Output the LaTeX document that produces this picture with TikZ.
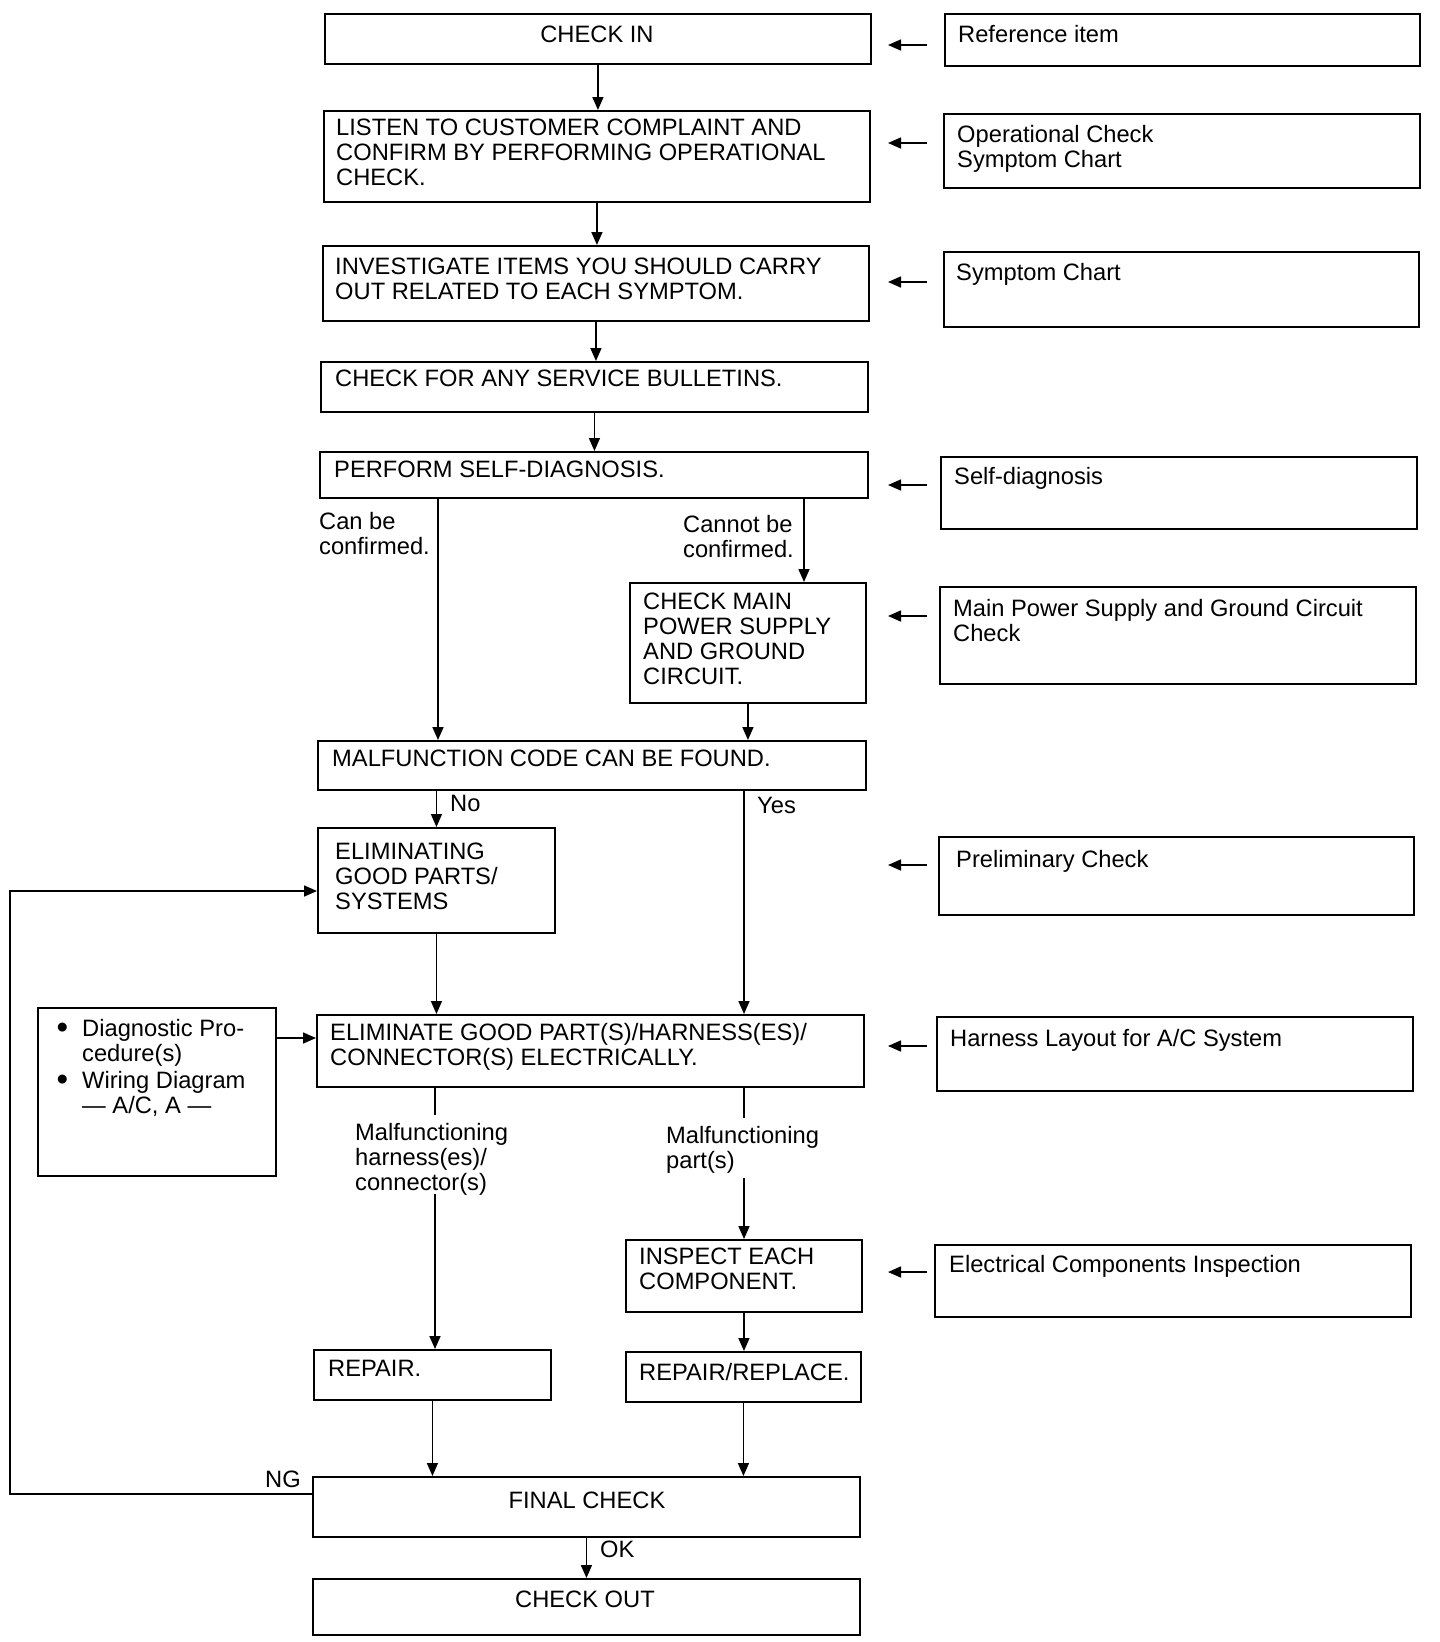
\documentclass[tikz,border=0pt]{standalone}
\usepackage{fontspec}
\setmainfont{Liberation Sans}
\usetikzlibrary{arrows.meta,calc}
\newcommand\bigbul{\llap{\raisebox{-2pt}{\fontsize{33}{25}\selectfont\textbullet}\hspace{14pt}}}
\begin{document}
\begin{tikzpicture}[x=1pt,y=-1pt,
  box/.style={draw, line width=1.9pt, inner sep=0pt, anchor=north west},
  txt/.style={inner sep=0pt, anchor=north west, align=left, font=\fontsize{23.7}{25}\selectfont},
  ctxt/.style={txt, anchor=north, align=center},
  arr/.style={line width=1.6pt, -{Triangle[length=13pt,width=11pt]}},
  ln/.style={line width=1.6pt}]
\useasboundingbox[fill=white] (0,0) rectangle (1440,1642);

% ---- main column boxes
\node[box, minimum width=546pt, minimum height=50pt] (ci)  at (324,13)  {};
\node[box, minimum width=546pt, minimum height=91pt] (lis) at (323,110) {};
\node[box, minimum width=546pt, minimum height=75pt] (inv) at (322,245) {};
\node[box, minimum width=547pt, minimum height=50pt] (cfb) at (320,361) {};
\node[box, minimum width=548pt, minimum height=46pt] (psd) at (319,451) {};
\node[box, minimum width=236pt, minimum height=120pt] (cmp) at (629,582) {};
\node[box, minimum width=548pt, minimum height=49pt] (mcf) at (317,740) {};
\node[box, minimum width=237pt, minimum height=105pt] (egp) at (317,827) {};
\node[box, minimum width=238pt, minimum height=168pt] (dg)  at (37,1007) {};
\node[box, minimum width=547pt, minimum height=72pt] (eg)  at (316,1014) {};
\node[box, minimum width=236pt, minimum height=72pt] (ie)  at (625,1239) {};
\node[box, minimum width=237pt, minimum height=50pt] (rep) at (313,1349) {};
\node[box, minimum width=235pt, minimum height=50pt] (rr)  at (625,1351) {};
\node[box, minimum width=547pt, minimum height=60pt] (fc)  at (312,1476) {};
\node[box, minimum width=547pt, minimum height=56pt] (co)  at (312,1578) {};

% ---- reference boxes
\node[box, minimum width=475pt, minimum height=52pt] (ref) at (944,13)  {};
\node[box, minimum width=476pt, minimum height=74pt] (op)  at (943,113) {};
\node[box, minimum width=475pt, minimum height=75pt] (sc)  at (943,251) {};
\node[box, minimum width=476pt, minimum height=72pt] (sd)  at (940,456) {};
\node[box, minimum width=476pt, minimum height=97pt] (mps) at (939,586) {};
\node[box, minimum width=475pt, minimum height=78pt] (pc)  at (938,836) {};
\node[box, minimum width=476pt, minimum height=74pt] (hl)  at (936,1016) {};
\node[box, minimum width=476pt, minimum height=72pt] (eci) at (934,1244) {};

% ---- box texts
\node[ctxt] (tci) at (597,26) {CHECK IN};
\node[txt] (tlis) at (336,119) {LISTEN TO CUSTOMER COMPLAINT AND\\CONFIRM BY PERFORMING OPERATIONAL\\CHECK.};
\node[txt] (tinv) at (335,258) {INVESTIGATE ITEMS YOU SHOULD CARRY\\OUT RELATED TO EACH SYMPTOM.};
\node[txt] (tcfb) at (335,370) {CHECK FOR ANY SERVICE BULLETINS.};
\node[txt] (tpsd) at (334,461) {PERFORM SELF-DIAGNOSIS.};
\node[txt] (tcmp) at (643,593) {CHECK MAIN\\POWER SUPPLY\\AND GROUND\\CIRCUIT.};
\node[txt] (tmcf) at (332,750) {MALFUNCTION CODE CAN BE FOUND.};
\node[txt] (tegp) at (335,843) {ELIMINATING\\GOOD PARTS/\\SYSTEMS};
\node[txt] (teg)  at (330,1023) {ELIMINATE GOOD PART(S)/HARNESS(ES)/\\CONNECTOR(S) ELECTRICALLY.};
\node[txt] (tie)  at (639,1248) {INSPECT EACH\\COMPONENT.};
\node[txt] (trep) at (328,1360) {REPAIR.};
\node[txt] (trr)  at (639,1363) {REPAIR/REPLACE.};
\node[ctxt] (tfc) at (587,1492) {FINAL CHECK};
\node[ctxt] (tco) at (585,1591) {CHECK OUT};
\node[txt] (tdg)  at (82,1019) {\bigbul Diagnostic Pro-\\cedure(s)\\[2pt]\bigbul Wiring Diagram\\— A/C, A —};

\node[txt] (tref) at (958,25)  {Reference item};
\node[txt] (top)  at (957,125) {Operational Check\\Symptom Chart};
\node[txt] (tsc)  at (956,263) {Symptom Chart};
\node[txt] (tsd)  at (954,467) {Self-diagnosis};
\node[txt] (tmps) at (953,599) {Main Power Supply and Ground Circuit\\Check};
\node[txt] (tpc)  at (956,850) {Preliminary Check};
\node[txt] (thl)  at (950,1029) {Harness Layout for A/C System};
\node[txt] (teci) at (949,1255) {Electrical Components Inspection};

% ---- connector labels
\node[txt] (lcan) at (319,512) {Can be\\confirmed.};
\node[txt] (lcannot) at (683,515) {Cannot be\\confirmed.};
\node[txt] (lno)  at (450,795) {No};
\node[txt] (lyes) at (757,797) {Yes};
\node[txt] (lmh)  at (355,1123) {Malfunctioning\\harness(es)/\\connector(s)};
\node[txt] (lmp)  at (666,1126) {Malfunctioning\\part(s)};
\node[txt] (lng)  at (265,1471) {NG};
\node[txt] (lok)  at (600,1541) {OK};

% ---- helper coordinates
\coordinate (xcan) at (438,0);
\coordinate (xnot) at (804,0);
\coordinate (xyes) at (744,0);
\coordinate (ydg) at (0,1038);
\coordinate (h1) at (435,1115);
\coordinate (h2) at (435,1194);
\coordinate (p1) at (744,1118);
\coordinate (p2) at (744,1178);
\coordinate (ngy) at (0,1494);
\coordinate (ng1) at (10,1494);
\coordinate (ng2) at (10,891);

% ---- main flow
\draw[arr] (ci.south) -- (ci.south |- lis.north);
\draw[arr] (lis.south) -- (lis.south |- inv.north);
\draw[arr] (inv.south) -- (inv.south |- cfb.north);
\draw[arr] (cfb.south) -- (cfb.south |- psd.north);
\draw[arr] (psd.south -| xcan) -- (mcf.north -| xcan);
\draw[arr] (psd.south -| xnot) -- (cmp.north -| xnot);
\draw[arr] (cmp.south) -- (cmp.south |- mcf.north);
\draw[arr] (mcf.south -| egp.north) -- (egp.north);
\draw[arr] (mcf.south -| xyes) -- (eg.north -| xyes);
\draw[arr] (egp.south) -- (egp.south |- eg.north);
\draw[arr] (dg.east |- ydg) -- (eg.west |- ydg);
\draw[ln]  (eg.south -| h1) -- (h1);
\draw[arr] (h2) -- (rep.north -| h2);
\draw[ln]  (eg.south -| p1) -- (p1);
\draw[arr] (p2) -- (ie.north -| p2);
\draw[arr] (ie.south) -- (ie.south |- rr.north);
\draw[arr] (rep.south) -- (rep.south |- fc.north);
\draw[arr] (rr.south) -- (rr.south |- fc.north);
\draw[arr] (fc.south) -- (fc.south |- co.north);
\draw[arr] (fc.west |- ngy) -- (ng1) -- (ng2) -- (egp.west |- ng2);

% ---- reference pointers
\foreach \yy [count=\i] in {45,143,282,485,616,865,1046,1272}{
  \coordinate (rs\i) at (927,\yy);
  \coordinate (re\i) at (888,\yy);
  \draw[arr] (rs\i) -- (re\i);
}
\end{tikzpicture}
\end{document}
